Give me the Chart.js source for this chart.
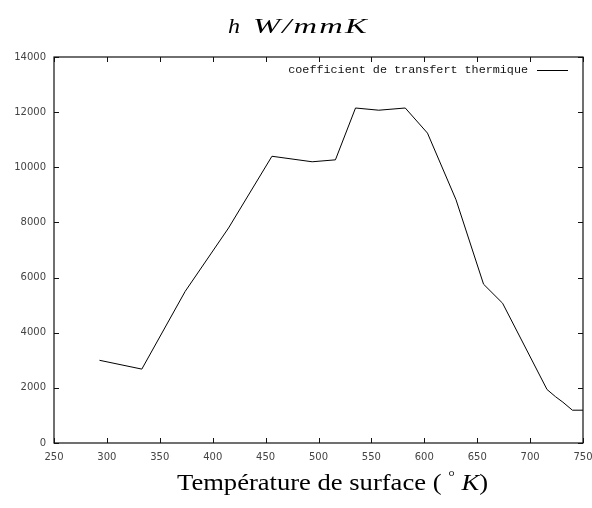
<!DOCTYPE html>
<html>
<head>
<meta charset="utf-8">
<script src="https://cdn.jsdelivr.net/npm/chart.js@4/dist/chart.umd.min.js"></script>
<style>
  html, body { margin: 0; padding: 0; background: #fff; }
  #c { display: block; }
</style>
</head>
<body>
<canvas id="c" width="592" height="508"></canvas>
<script>
// ---- data ----
const temperatures = [293, 333, 374, 415, 456, 494, 516, 535, 557, 582, 603, 630, 656, 674, 716, 724, 731, 740, 750];
const hValues      = [3000, 2680, 5500, 7800, 10400, 10200, 10270, 12150, 12070, 12150, 11240, 8820, 5760, 5070, 1940, 1680, 1480, 1190, 1190];
const xTicks = [250, 300, 350, 400, 450, 500, 550, 600, 650, 700, 750];
const yTicks = [0, 2000, 4000, 6000, 8000, 10000, 12000, 14000];
const seriesLabel = 'coefficient de transfert thermique';
const titleParts = ['h', 'W/mmK'];
const xTitleParts = ['Température de surface ( ', '°', ' ', 'K', ')'];

const points = temperatures.map((t, i) => ({ x: t, y: hValues[i] }));

function drawFitted(ctx, text, font, x, y, targetW, spacing) {
  ctx.save();
  ctx.font = font;
  ctx.letterSpacing = spacing + 'px';
  const w = ctx.measureText(text).width;
  ctx.translate(x, y);
  ctx.scale(targetW / w, 1);
  ctx.fillText(text, 0, 0);
  ctx.restore();
}

const framePlugin = {
  id: 'frame',
  afterDatasetsDraw(chart) {
    const ctx = chart.ctx;
    const a = chart.chartArea;
    const xs = chart.scales.x, ys = chart.scales.y;
    ctx.save();
    ctx.strokeStyle = '#111';
    ctx.lineWidth = 1.2;
    ctx.strokeRect(a.left, a.top, a.right - a.left, a.bottom - a.top);
    ctx.lineWidth = 1;
    ctx.beginPath();
    const L = 5;
    xTicks.forEach(v => {
      const px = Math.round(xs.getPixelForValue(v)) + 0.5;
      ctx.moveTo(px, a.bottom); ctx.lineTo(px, a.bottom - L);
      ctx.moveTo(px, a.top); ctx.lineTo(px, a.top + L);
    });
    yTicks.forEach(v => {
      const py = Math.round(ys.getPixelForValue(v)) + 0.5;
      ctx.moveTo(a.left, py); ctx.lineTo(a.left + L, py);
      ctx.moveTo(a.right, py); ctx.lineTo(a.right - L, py);
    });
    ctx.stroke();

    // legend inside plot (top right)
    ctx.font = '11.75px "Liberation Mono"';
    ctx.fillStyle = '#111';
    ctx.textAlign = 'right';
    ctx.textBaseline = 'middle';
    ctx.fillText(chart.data.datasets[0].label, a.right - 55, a.top + 13);
    ctx.beginPath();
    ctx.strokeStyle = '#000';
    ctx.lineWidth = 1;
    ctx.moveTo(a.right - 46, a.top + 13.5);
    ctx.lineTo(a.right - 15, a.top + 13.5);
    ctx.stroke();

    // title
    ctx.fillStyle = '#000';
    ctx.textAlign = 'left';
    ctx.textBaseline = 'alphabetic';
    drawFitted(ctx, titleParts[0], 'italic 22px "Liberation Serif"', 228, 33, 12, 0);
    drawFitted(ctx, titleParts[1], 'italic 22px "Liberation Serif"', 253, 33, 116, 1.5);

    // x-axis title with italic K
    const fonts = ['24px "Liberation Serif"', '15px "Liberation Serif"', '24px "Liberation Serif"', 'italic 24px "Liberation Serif"', '24px "Liberation Serif"'];
    const offs = [0, -9, 0, 0, 0];
    const widths = xTitleParts.map((p, i) => { ctx.font = fonts[i]; return ctx.measureText(p).width; });
    const total = widths.reduce((s, w) => s + w, 0);
    const sx = 311 / total;
    ctx.save();
    ctx.translate(177, 490);
    ctx.scale(sx, 1);
    let cx = 0;
    xTitleParts.forEach((p, i) => {
      ctx.font = fonts[i];
      ctx.fillText(p, cx, offs[i]);
      cx += widths[i];
    });
    ctx.restore();
    ctx.restore();
  }
};

new Chart(document.getElementById('c'), {
  type: 'line',
  data: {
    datasets: [{
      label: seriesLabel,
      data: points,
      borderColor: '#000',
      borderWidth: 1,
      pointRadius: 0,
      tension: 0,
      fill: false
    }]
  },
  options: {
    responsive: false,
    animation: false,
    layout: { padding: { top: 57, right: 9, left: 0, bottom: 0 } },
    plugins: { legend: { display: false }, title: { display: false }, tooltip: { enabled: false } },
    scales: {
      x: {
        type: 'linear', min: 250, max: 750,
        afterBuildTicks: s => { s.ticks = xTicks.map(v => ({ value: v })); },
        afterFit: s => { s.height = 65; s.paddingLeft = 0; s.paddingRight = 0; },
        grid: { display: false, drawTicks: false },
        border: { display: false },
        ticks: { padding: 8, maxRotation: 0, autoSkip: false, color: '#444', font: { family: 'DejaVu Sans', size: 10 }, callback: v => String(v) }
      },
      y: {
        min: 0, max: 14000,
        afterBuildTicks: s => { s.ticks = yTicks.map(v => ({ value: v })); },
        afterFit: s => { s.width = 54; s.paddingTop = 0; s.paddingBottom = 0; },
        grid: { display: false, drawTicks: false },
        border: { display: false },
        ticks: { padding: 8, autoSkip: false, color: '#444', font: { family: 'DejaVu Sans', size: 10 }, callback: v => String(v) }
      }
    }
  },
  plugins: [framePlugin]
});
</script>
</body>
</html>
